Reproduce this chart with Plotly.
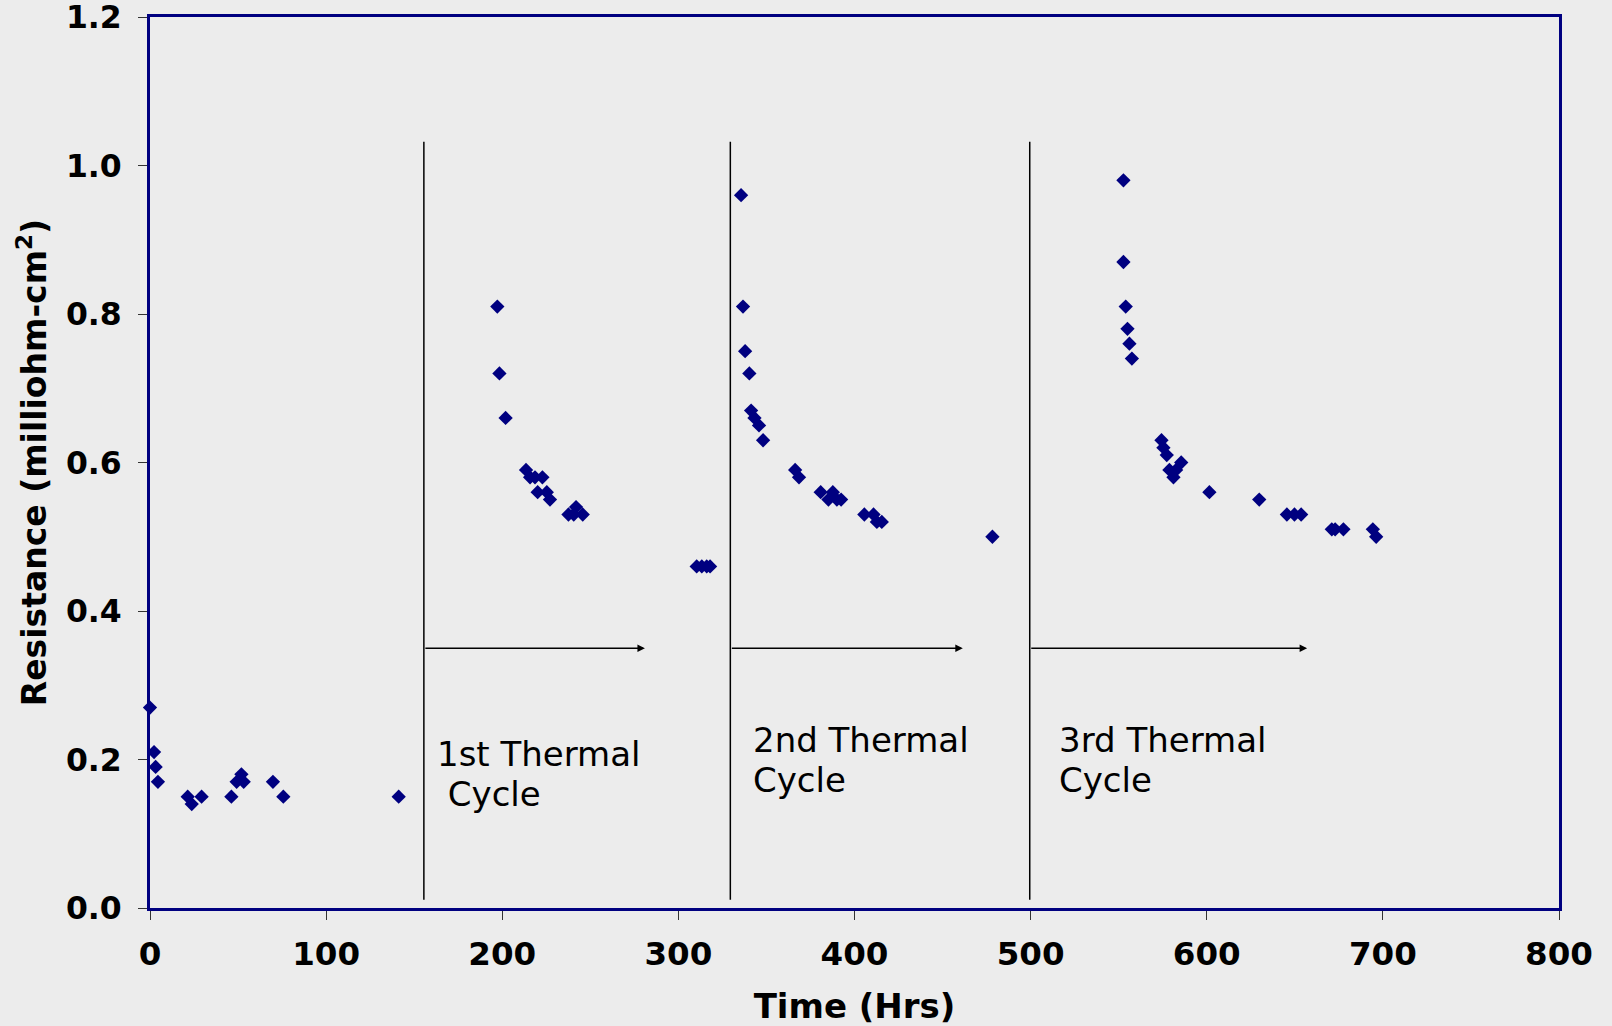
import plotly.graph_objects as go

# ---- data ----
time_hrs = [
    0, 2.3, 3.2, 4.5, 21.4, 23.7, 29.3, 46.2, 49.2, 51.9, 53.2, 69.8, 75.7, 141.2,
    197.2, 198.4, 201.9, 213.5, 215.8, 218.6, 222.8, 220.1, 225.3, 227.1, 237.6, 240.6, 241.9, 245.7,
    310.4, 313.3, 316.1, 318.0,
    335.6, 336.7, 337.9, 340.3, 341.3, 343.2, 345.8, 348.1, 366.3, 368.5, 380.8, 385.2, 387.7,
    390.0, 392.4, 405.6, 410.8, 412.7, 415.5, 478.3,
    552.7, 552.7, 554.0, 555.0, 556.1, 557.5, 574.3, 575.4, 577.3, 578.8, 581.1, 582.6, 585.5,
    601.5, 629.8, 645.5, 649.8, 653.6, 671.0, 672.9, 677.6, 694.3, 696.2,
]
resistance = [
    0.27, 0.21, 0.19, 0.17, 0.15, 0.14, 0.15, 0.15, 0.17, 0.18, 0.17, 0.17, 0.15, 0.15,
    0.81, 0.72, 0.66, 0.59, 0.58, 0.58, 0.58, 0.56, 0.56, 0.55, 0.53, 0.53, 0.54, 0.53,
    0.46, 0.46, 0.46, 0.46,
    0.96, 0.81, 0.75, 0.72, 0.67, 0.66, 0.65, 0.63, 0.59, 0.58, 0.56, 0.55, 0.56,
    0.55, 0.55, 0.53, 0.53, 0.52, 0.52, 0.50,
    0.98, 0.87, 0.81, 0.78, 0.76, 0.74, 0.63, 0.62, 0.61, 0.59, 0.58, 0.59, 0.60,
    0.56, 0.55, 0.53, 0.53, 0.53, 0.51, 0.51, 0.51, 0.51, 0.50,
]
cycle_label_line1 = ["1st Thermal", "2nd Thermal", "3rd Thermal"]
cycle_label_line2 = ["\u00a0Cycle", "Cycle", "Cycle"]
cycle_start = [155.5, 329.5, 499.5]
cycle_arrow_end = [281.0, 461.5, 657.0]
x_ticks = [0, 100, 200, 300, 400, 500, 600, 700, 800]
y_ticks = [0.0, 0.2, 0.4, 0.6, 0.8, 1.0, 1.2]
y_tick_text = ["0.0", "0.2", "0.4", "0.6", "0.8", "1.0", "1.2"]

FONT = "DejaVu Sans, Verdana, sans-serif"
NAVY = "#000080"
BG = "#ECECEC"

fig = go.Figure()
fig.add_trace(go.Scatter(
    x=time_hrs, y=resistance, mode="markers",
    marker=dict(symbol="diamond", size=11, color=NAVY, line=dict(width=0)),
    cliponaxis=False, showlegend=False,
))

shapes = []
annotations = []
label_x = [162, 341, 515]
line1_y = [0.208, 0.226, 0.226]
line2_y = [0.154, 0.172, 0.172]
for i, xs in enumerate(cycle_start):
    shapes.append(dict(type="line", xref="x", yref="y", x0=xs, x1=xs, y0=0.011, y1=1.032,
                       line=dict(color="black", width=1.5)))
    annotations.append(dict(
        x=cycle_arrow_end[i], y=0.35, ax=xs, ay=0.35, xref="x", yref="y",
        axref="x", ayref="y", text="", showarrow=True, arrowhead=2,
        arrowsize=1, arrowwidth=1.5, arrowcolor="black"))
    for txt, yy in ((cycle_label_line1[i], line1_y[i]), (cycle_label_line2[i], line2_y[i])):
        annotations.append(dict(
            x=label_x[i], y=yy, xref="x", yref="y", text=txt,
            showarrow=False, xanchor="left", yanchor="middle", align="left",
            font=dict(family=FONT, size=34, color="black")))

axis_common = dict(
    showline=True, linecolor=NAVY, linewidth=3, mirror=True,
    showgrid=False, zeroline=False, ticks="outside", ticklen=9,
    tickcolor="#333333", tickwidth=1, ticklabeloverflow="allow", automargin=False,
)

fig.update_layout(
    width=1612, height=1026, autosize=False,
    margin=dict(l=150, r=53, t=17, b=118, autoexpand=False),
    paper_bgcolor=BG, plot_bgcolor=BG,
    shapes=shapes, annotations=annotations,
    xaxis=dict(range=[0, 800], tickvals=x_ticks, ticklabelstandoff=6,
               tickfont=dict(family=FONT, size=32.5, color="black", weight="bold"),
               title=dict(text="Time (Hrs)", standoff=26,
                          font=dict(family=FONT, size=34, color="black", weight="bold")),
               **axis_common),
    yaxis=dict(range=[0, 1.2], tickvals=y_ticks, ticktext=y_tick_text, ticklabelstandoff=10,
               tickfont=dict(family=FONT, size=31.5, color="black", weight="bold"),
               title=dict(text="Resistance (milliohm-cm<sup>2</sup>)", standoff=10,
                          font=dict(family=FONT, size=33, color="black", weight="bold")),
               **axis_common),
)

fig.write_html(
    "out.html",
    config={"displayModeBar": False},
    post_script="document.body.style.margin='0';document.body.style.overflow='hidden';",
)
